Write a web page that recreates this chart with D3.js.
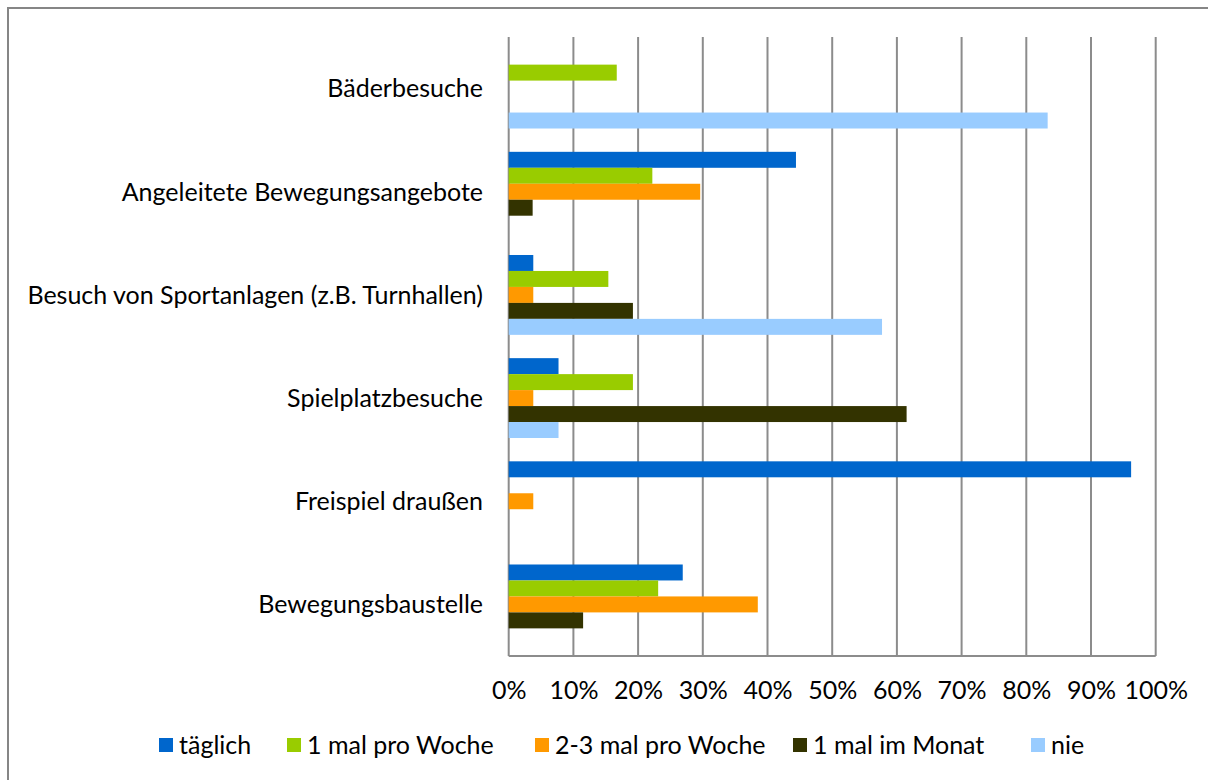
<!DOCTYPE html>
<html>
<head>
<meta charset="utf-8">
<script src="https://cdnjs.cloudflare.com/ajax/libs/d3/7.8.5/d3.min.js"></script>
<style>
body { margin: 0; background: #fff; }
text { font-family: Lato, "Open Sans", sans-serif; fill: #000; }
</style>
</head>
<body>
<script>
var categories = ["Bäderbesuche", "Angeleitete Bewegungsangebote", "Besuch von Sportanlagen (z.B. Turnhallen)", "Spielplatzbesuche", "Freispiel draußen", "Bewegungsbaustelle"];
var seriesNames = ["täglich", "1 mal pro Woche", "2-3 mal pro Woche", "1 mal im Monat", "nie"];
var taeglich = [0, 44.4, 3.8, 7.7, 96.2, 26.9];
var proWoche = [16.7, 22.2, 15.4, 19.2, 0, 23.1];
var zweiDrei = [0, 29.6, 3.8, 3.8, 3.8, 38.5];
var imMonat = [0, 3.7, 19.2, 61.5, 0, 11.5];
var nie = [83.3, 0, 57.7, 7.7, 0, 0];
var tickValues = [0, 10, 20, 30, 40, 50, 60, 70, 80, 90, 100];
var colors = ["#0066cc", "#99cc00", "#ff9900", "#333300", "#99ccff"];

var seriesValues = [taeglich, proWoche, zweiDrei, imMonat, nie];

var w = 1208, h = 780;
var plotLeft = 508.7, plotRight = 1155.7, plotTop = 37, plotBottom = 656;
var fontSize = "25px";

var svg = d3.select("body").append("svg")
    .attr("width", w)
    .attr("height", h);

// outer frame (cut off at right and bottom like the reference)
svg.append("rect")
    .attr("x", 8).attr("y", 8)
    .attr("width", w + 10).attr("height", h + 10)
    .attr("fill", "none")
    .attr("stroke", "#868686")
    .attr("stroke-width", 2);

var x = d3.scaleLinear().domain([0, 100]).range([plotLeft, plotRight]);
var y0 = d3.scaleBand().domain(categories).range([plotTop, plotBottom])
    .paddingInner(0.226).paddingOuter(0.113);
var y1 = d3.scaleBand().domain(seriesNames).range([0, y0.bandwidth()]);

// grid lines
svg.append("g")
    .selectAll("line")
    .data(tickValues)
    .enter()
    .append("line")
    .attr("x1", function (d) { return x(d); })
    .attr("x2", function (d) { return x(d); })
    .attr("y1", plotTop)
    .attr("y2", plotBottom)
    .attr("stroke", "#8c8c8c")
    .attr("stroke-width", 2);

svg.append("line")
    .attr("x1", plotLeft).attr("x2", plotRight)
    .attr("y1", plotBottom).attr("y2", plotBottom)
    .attr("stroke", "#8c8c8c")
    .attr("stroke-width", 2);

// bars
var groups = svg.append("g")
    .selectAll("g")
    .data(categories)
    .enter()
    .append("g")
    .attr("transform", function (d) { return "translate(0," + y0(d) + ")"; });

groups.selectAll("rect")
    .data(function (d, i) {
        return seriesNames.map(function (s, j) {
            return { name: s, value: seriesValues[j][i], color: colors[j] };
        });
    })
    .enter()
    .append("rect")
    .filter(function (d) { return d.value > 0; })
    .attr("x", x(0))
    .attr("y", function (d) { return y1(d.name); })
    .attr("width", function (d) { return x(d.value) - x(0); })
    .attr("height", y1.bandwidth())
    .attr("fill", function (d) { return d.color; });

// category labels
svg.append("g")
    .selectAll("text")
    .data(categories)
    .enter()
    .append("text")
    .attr("x", 483)
    .attr("y", function (d) { return y0(d) + y0.bandwidth() / 2; })
    .attr("dy", "0.35em")
    .attr("text-anchor", "end")
    .style("font-size", fontSize)
    .text(function (d) { return d; });

// x axis labels
var xAxis = d3.axisBottom(x)
    .tickValues(tickValues)
    .tickSize(0)
    .tickPadding(0)
    .tickFormat(function (d) { return d + "%"; });

var gx = svg.append("g")
    .attr("transform", "translate(0," + (plotBottom + 34) + ")")
    .call(xAxis);
gx.select(".domain").remove();
gx.selectAll("text")
    .attr("y", 0)
    .attr("dy", "0.35em")
    .style("font-size", fontSize)
    .style("font-family", "Lato, sans-serif")
    .attr("fill", "#000");

// legend
var legendX = [159, 287, 535, 793, 1031];
var legend = svg.append("g")
    .selectAll("g")
    .data(seriesNames)
    .enter()
    .append("g")
    .attr("transform", function (d, i) { return "translate(" + legendX[i] + ",745)"; });

legend.append("rect")
    .attr("x", 0).attr("y", -7)
    .attr("width", 14).attr("height", 14)
    .attr("fill", function (d, i) { return colors[i]; });

legend.append("text")
    .attr("x", 20)
    .attr("y", 0)
    .attr("dy", "0.35em")
    .style("font-size", fontSize)
    .text(function (d) { return d; });
</script>
</body>
</html>
